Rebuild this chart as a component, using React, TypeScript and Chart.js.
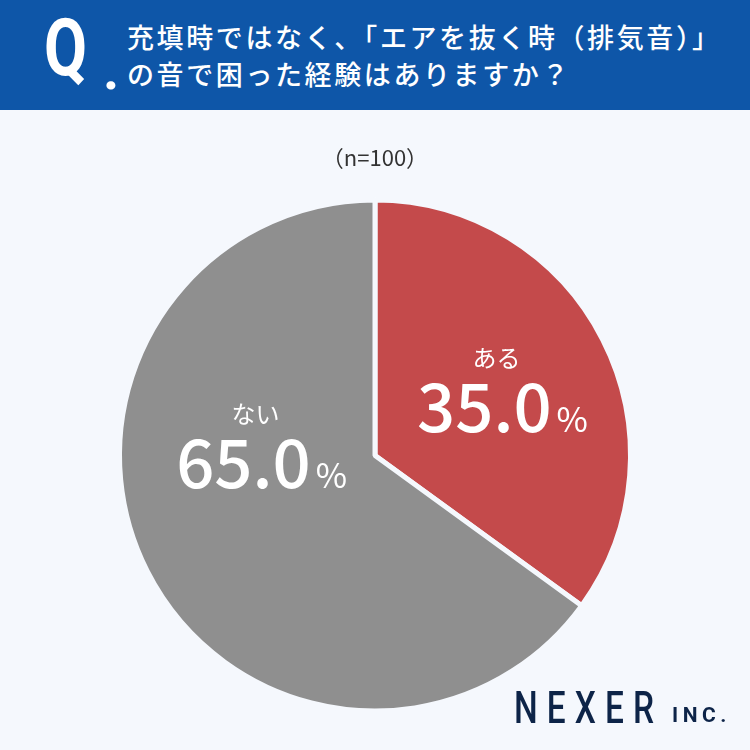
import React, { useEffect, useRef } from "react";
import { Chart, PieController, ArcElement } from "chart.js";

Chart.register(PieController, ArcElement);

const categories = ["ある", "ない"];
const values = [35.0, 65.0];
const sliceColors = ["#c44a4b", "#8f8f8f"];
const questionLines = ["充填時ではなく、「エアを抜く時（排気音）」", "の音で困った経験はありますか？"];
const sampleLabel = "（n=100）";
// label anchor (baseline centre of the number) as fractions of the outer radius
const labelOffsets: [number, number][] = [
  [0.499, -0.092],
  [-0.444, 0.127],
];

const BG = "#f5f8fd";
const FONT = '"Noto Sans CJK JP", "Noto Sans", sans-serif';

const labelPlugin = {
  id: "sliceLabels",
  afterDatasetsDraw(chart: any) {
    const ctx = chart.ctx as CanvasRenderingContext2D;
    const meta = chart.getDatasetMeta(0);
    meta.data.forEach((arc: any, i: number) => {
      const { x, y, outerRadius } = arc.getProps(["x", "y", "outerRadius"], true);
      const [fx, fy] = labelOffsets[i];
      const ax = x + fx * outerRadius;
      const ay = y + fy * outerRadius;
      const num = values[i].toFixed(1);
      ctx.save();
      ctx.fillStyle = "#ffffff";
      ctx.textBaseline = "alphabetic";
      ctx.textAlign = "left";
      ctx.font = `500 67px ${FONT}`;
      const nw = ctx.measureText(num).width;
      ctx.font = `400 34px ${FONT}`;
      const pw = ctx.measureText("%").width;
      const gap = 5;
      const left = ax - (nw + gap + pw) / 2;
      ctx.font = `500 67px ${FONT}`;
      ctx.fillText(num, left, ay);
      ctx.font = `400 34px ${FONT}`;
      ctx.fillText("%", left + nw + gap, ay);
      ctx.font = `400 24px ${FONT}`;
      ctx.textAlign = "center";
      ctx.fillText(categories[i], ax - 6, ay - 65);
      ctx.restore();
    });
  },
};

export default function App() {
  const canvasRef = useRef<HTMLCanvasElement | null>(null);

  useEffect(() => {
    if (!canvasRef.current) return;
    const chart = new Chart(canvasRef.current, {
      type: "pie",
      data: {
        labels: categories,
        datasets: [
          {
            data: values,
            backgroundColor: sliceColors,
            borderColor: BG,
            borderWidth: 5,
          },
        ],
      },
      options: {
        animation: false,
        responsive: false,
        devicePixelRatio: 1,
        radius: 255.5,
        layout: { padding: { top: 161, left: 0, right: 0, bottom: 0 } },
        plugins: {
          legend: { display: false },
          tooltip: { enabled: false },
        },
      } as any,
      plugins: [labelPlugin],
    });
    return () => chart.destroy();
  }, []);

  return (
    <div
      style={{
        position: "fixed",
        left: 0,
        top: 0,
        width: 750,
        height: 750,
        background: BG,
        overflow: "hidden",
        fontFamily: FONT,
      }}
    >
      <canvas ref={canvasRef} width={750} height={750} style={{ position: "absolute", left: 0, top: 0, width: 750, height: 750 }} />
      <div style={{ position: "absolute", left: 0, top: 0, width: 750, height: 110, background: "#0e56a8" }}>
        <div
          style={{
            position: "absolute",
            left: 44,
            top: 8,
            fontFamily: "Roboto, sans-serif",
            fontWeight: 700,
            fontSize: 80,
            lineHeight: "80px",
            color: "#fff",
            transform: "scaleX(0.78)",
            transformOrigin: "left top",
          }}
        >
          Q
        </div>
        <div
          style={{
            position: "absolute",
            left: 103,
            top: 42,
            fontFamily: "Roboto, sans-serif",
            fontWeight: 700,
            fontSize: 56,
            lineHeight: "56px",
            color: "#fff",
          }}
        >
          .
        </div>
        {questionLines.map((line, i) => (
          <div
            key={i}
            style={{
              position: "absolute",
              left: 127,
              top: 23 + i * 37,
              fontSize: 27,
              lineHeight: "28px",
              fontWeight: 500,
              letterSpacing: 2.6,
              color: "#fff",
              whiteSpace: "nowrap",
            }}
          >
            {line}
          </div>
        ))}
      </div>
      <div
        style={{
          position: "absolute",
          left: 0,
          width: 750,
          top: 142,
          textAlign: "center",
          fontSize: 22,
          lineHeight: "28px",
          color: "#333",
        }}
      >
        {sampleLabel}
      </div>
      <div
        style={{
          position: "absolute",
          left: 514,
          top: 684,
          fontFamily: "Roboto, sans-serif",
          fontWeight: 500,
          fontSize: 44,
          lineHeight: "48px",
          letterSpacing: 12,
          color: "#0d2448",
          transform: "scaleX(0.76)",
          transformOrigin: "left top",
          whiteSpace: "nowrap",
        }}
      >
        NEXER
      </div>
      <div
        style={{
          position: "absolute",
          left: 672,
          top: 704,
          fontFamily: "Roboto, sans-serif",
          fontWeight: 700,
          fontSize: 21,
          lineHeight: "22px",
          letterSpacing: 4.5,
          color: "#0d2448",
          whiteSpace: "nowrap",
        }}
      >
        INC.
      </div>
    </div>
  );
}
